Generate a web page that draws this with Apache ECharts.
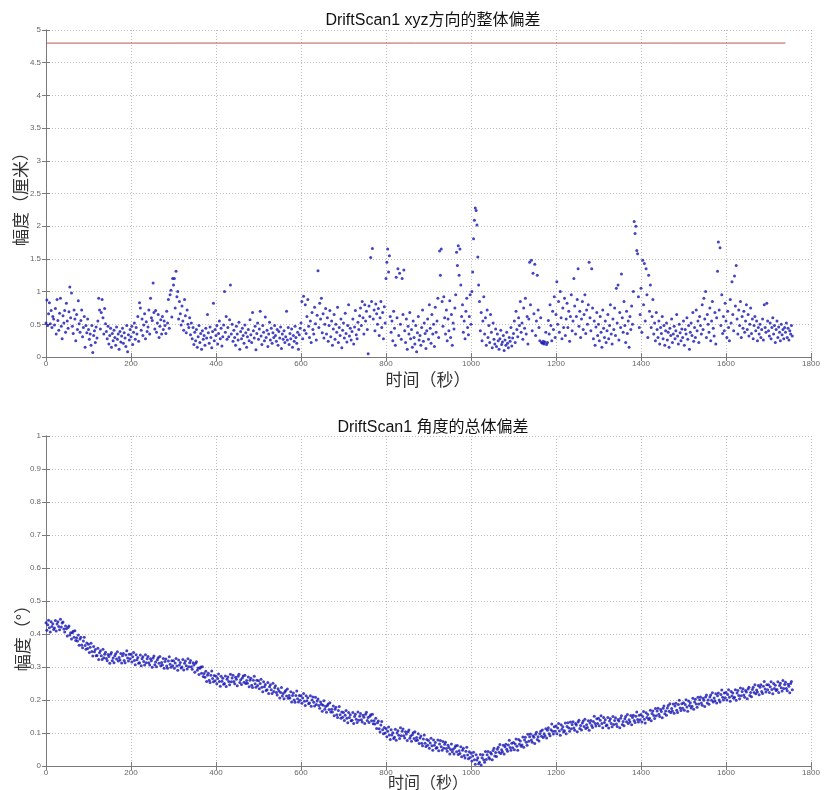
<!DOCTYPE html>
<html>
<head>
<meta charset="utf-8">
<script src="https://cdn.jsdelivr.net/npm/echarts/dist/echarts.min.js"></script>
<style>
html,body{margin:0;padding:0;background:#fff;}
#chart{width:826px;height:790px;}
</style>
</head>
<body>
<div id="chart"></div>
<script>
// ---------- data ----------
const T_STEP = 2; // seconds between plotted samples
const TITLE_TOP = 'DriftScan1 xyz方向的整体偏差';
const TITLE_BOTTOM = 'DriftScan1 角度的总体偏差';
const X_NAME = '时间（秒）';
const Y_NAME_TOP = '幅度（厘米）';
const Y_NAME_BOTTOM = '幅度（°）';
const X_RANGE = [0, 1800, 200];
const Y_RANGE_TOP = [0, 5, 0.5];
const Y_RANGE_BOTTOM = [0, 1, 0.1];
const LIMIT_VALUE = 4.8;
const LIMIT_SPAN = [0, 1740];

// overall xyz deviation (cm), one value every T_STEP seconds from t=0
const XYZ_DEV = [
.52,.87,.48,.66,.83,.51,.71,.45,.62,.58,
.49,.74,.35,.88,.56,.41,.67,.90,.47,.28,
.63,.52,.71,.38,.82,.55,.44,.69,1.07,.60,
.98,.47,.36,.72,.58,.25,.65,.42,.86,.51,
.38,.56,.72,.31,.45,.62,.15,.48,.37,.58,
.42,.27,.35,.18,.48,.07,.33,.40,.22,.46,
.29,.55,.90,.72,.43,.68,.88,.60,.35,.74,
.51,.39,.28,.47,.20,.33,.44,.15,.36,.25,
.41,.30,.18,.46,.27,.35,.12,.39,.23,.32,
.44,.21,.37,.29,.16,.48,.08,.34,.26,.42,
.31,.47,.19,.38,.52,.27,.45,.35,.62,.24,
.83,.75,.41,.58,.33,.49,.66,.28,.54,.39,
.46,.72,.35,.90,.60,.56,1.13,.68,.43,.71,
.38,.52,.65,.30,.47,.57,.35,.62,.42,.55,
.48,.36,.70,.52,.88,.44,.95,1.02,.61,1.20,
1.10,1.20,.75,1.31,.92,1.00,.58,.85,.66,.49,
.78,.55,.41,.88,.63,.37,.72,.50,.45,.60,
.34,.52,.28,.45,.19,.38,.25,.42,.15,.31,
.48,.22,.36,.12,.40,.27,.33,.18,.44,.29,
.65,.37,.21,.46,.30,.14,.39,.82,.25,.42,
.33,.48,.20,.36,.55,.28,.44,.17,.31,.49,
1.00,.38,.62,.27,.45,.31,.57,1.10,.35,.50,
.24,.41,.30,.18,.47,.35,.26,.53,.12,.39,
.28,.44,.33,.21,.49,.37,.15,.31,.42,.25,
.57,.34,.22,.68,.40,.29,.47,.11,.36,.52,
.27,.43,.70,.32,.19,.48,.38,.25,.61,.30,
.41,.16,.35,.53,.26,.44,.21,.37,.30,.48,
.33,.24,.42,.18,.39,.29,.46,.13,.35,.27,
.40,.22,.31,.70,.26,.45,.19,.36,.28,.43,
.15,.33,.24,.47,.30,.21,.38,.12,.34,.44,
.52,.85,.28,.93,.41,.80,.36,.62,.88,.47,
.30,.55,.22,.68,.42,.35,.76,.51,.26,.64,
1.32,.45,.82,.58,.90,.37,.66,.29,.50,.74,
.35,.60,.24,.48,.71,.31,.55,.18,.43,.65,
.27,.50,.38,.76,.22,.45,.33,.58,.14,.41,
.52,.29,.67,.36,.23,.48,.80,.32,.44,.26,
.39,.58,.20,.46,.71,.34,.28,.53,.42,.63,
.75,.48,.85,.60,.35,.80,.55,.70,.42,.05,
.78,.62,1.52,.85,1.66,.58,.72,.40,.81,.66,
.50,.74,.33,.60,.85,.45,.68,.28,.77,.52,
1.20,1.45,1.65,1.30,1.55,.62,.38,.55,.25,.70,
.44,.18,1.22,.60,1.35,.33,1.28,.50,.27,1.20,
.65,1.33,.40,.22,.58,.12,.47,.35,.68,.28,
.42,.15,.55,.30,.20,.48,.08,.37,.62,.26,
.33,.18,.45,.72,.24,.52,.36,.13,.40,.58,
.27,.80,.44,.21,.65,.35,.50,.16,.76,.38,
.55,.90,.30,1.62,1.25,1.65,.85,.47,.92,.60,
.35,.72,.25,.58,.40,.86,.30,.65,.18,.52,
.43,.75,.95,1.60,1.40,1.70,1.25,1.65,1.10,.62,
.80,.38,.55,.28,.70,.90,.45,.34,.62,.95,
.50,1.00,1.30,1.81,2.09,2.28,2.24,2.02,1.53,1.10,
.85,.40,.68,.25,.55,.92,.35,.60,.18,.72,
.30,.48,.22,.65,.38,.14,.52,.27,.20,.43,
.16,.35,.25,.12,.28,.41,.19,.23,.33,.10,
.26,.18,.38,.21,.14,.30,.24,.45,.17,.29,
.36,.55,.22,.70,.42,.31,.60,.48,.85,.38,
.52,.27,.75,.44,.90,.35,.62,.20,.58,1.45,
.80,1.48,.40,1.28,.66,1.42,.33,.55,1.25,.72,
.45,.25,.60,.22,.21,.24,.20,.23,.38,.19,
.22,.56,.35,.80,.48,.25,.70,.42,.92,.30,
.65,1.15,.50,.85,.38,1.00,.60,.28,.75,.45,
.90,.33,.58,.82,.45,.70,.24,.62,.95,.40,
.55,1.20,.78,.35,.62,.88,1.35,.47,.70,.30,
.58,.85,.42,.65,.95,.36,.72,.50,.80,1.45,
.60,.40,1.35,.75,.28,.55,.18,.46,.68,.33,
.50,.25,.62,.38,.15,.72,.44,.30,.55,.22,
.40,.65,.28,.48,.80,.35,.20,.58,.42,.75,
.33,1.05,.52,1.10,.26,.68,.45,1.27,.60,.38,
.85,.48,.22,.70,.36,.55,.15,.62,.42,.78,
.50,1.00,2.07,1.89,2.00,1.63,1.58,.92,.45,.65,
1.05,.38,1.48,.80,1.43,.55,1.35,.95,.30,1.25,
.70,1.10,.45,.62,.88,.35,.52,.25,.68,.42,
.30,.55,.20,.45,.36,.62,.28,.48,.18,.40,
.52,.26,.38,.15,.44,.33,.58,.22,.35,.47,
.28,.40,.65,.32,.20,.50,.37,.25,.43,.30,
.55,.18,.42,.35,.60,.27,.48,.12,.38,.52,
.33,.68,.24,.45,.30,.72,.40,.55,.22,.62,
.48,.35,.80,.42,.90,.58,1.00,.30,.65,.50,
.38,.75,.25,.55,.85,.44,.32,.68,.20,.60,
1.31,1.76,.72,1.67,.48,.95,.36,.62,.40,.82,
.55,.30,.70,.45,.25,.88,.52,1.15,.65,.40,
1.24,.78,1.40,.58,.35,.72,.48,.85,.30,.62,
.44,.70,.38,.55,.80,.42,.65,.32,.50,.75,
.36,.58,.28,.48,.62,.40,.55,.25,.45,.35,
.50,.30,.42,.58,.26,.80,.45,.38,.82,.55,
.40,.32,.52,.28,.45,.60,.35,.48,.22,.42,
.55,.30,.46,.38,.25,.50,.34,.42,.28,.45,
.38,.52,.30,.44,.26,.40,.35,.48,.32
];

// overall angular deviation (deg), one value every T_STEP seconds from t=0
const ANG_DEV = [
.434,.411,.428,.442,.419,.406,.437,.423,.431,.414,
.418,.441,.409,.430,.437,.423,.413,.445,.421,.433,
.436,.415,.406,.424,.416,.394,.420,.424,.397,.404,
.385,.404,.408,.390,.410,.380,.389,.379,.397,.366,
.385,.390,.367,.358,.379,.390,.365,.354,.373,.356,
.369,.344,.360,.372,.347,.333,.362,.346,.353,.334,
.335,.357,.323,.343,.349,.334,.323,.354,.328,.339,
.345,.326,.319,.338,.332,.311,.339,.344,.319,.327,
.313,.334,.340,.324,.346,.318,.329,.321,.341,.312,
.334,.341,.320,.313,.336,.349,.327,.318,.339,.325,
.339,.315,.331,.344,.320,.307,.337,.322,.329,.311,
.313,.336,.304,.325,.331,.317,.306,.337,.313,.325,
.332,.313,.306,.325,.319,.299,.327,.333,.307,.315,
.301,.322,.328,.311,.332,.304,.314,.306,.326,.296,
.317,.324,.303,.296,.318,.331,.308,.299,.319,.304,
.319,.296,.312,.326,.303,.290,.321,.306,.314,.297,
.300,.323,.291,.311,.318,.304,.294,.325,.301,.313,
.320,.301,.293,.313,.306,.284,.311,.316,.290,.297,
.277,.296,.300,.281,.301,.271,.280,.269,.287,.256,
.275,.281,.260,.253,.275,.288,.265,.255,.274,.258,
.272,.249,.265,.279,.256,.242,.272,.257,.266,.248,
.250,.273,.241,.263,.270,.256,.246,.278,.255,.267,
.275,.256,.249,.269,.263,.243,.272,.278,.253,.261,
.247,.267,.273,.254,.275,.250,.259,.251,.270,.240,
.260,.266,.245,.238,.260,.272,.249,.239,.260,.244,
.258,.234,.250,.263,.239,.225,.255,.240,.247,.229,
.231,.253,.220,.240,.246,.231,.220,.251,.226,.237,
.243,.223,.215,.234,.227,.206,.223,.238,.212,.220,
.204,.224,.229,.212,.233,.205,.214,.206,.225,.194,
.214,.221,.200,.193,.214,.227,.204,.194,.214,.199,
.213,.190,.206,.220,.196,.183,.213,.198,.207,.189,
.191,.213,.181,.200,.209,.193,.182,.208,.186,.197,
.203,.183,.175,.194,.187,.166,.184,.198,.172,.180,
.163,.183,.188,.171,.192,.164,.172,.164,.182,.152,
.172,.178,.155,.147,.168,.180,.155,.145,.164,.148,
.162,.138,.154,.168,.145,.131,.162,.147,.155,.137,
.139,.162,.129,.150,.157,.142,.132,.164,.139,.151,
.159,.140,.133,.154,.148,.129,.157,.163,.138,.147,
.132,.151,.155,.137,.157,.128,.137,.127,.145,.114,
.131,.136,.113,.103,.124,.135,.110,.098,.117,.100,
.113,.089,.105,.118,.094,.080,.110,.094,.101,.083,
.087,.111,.078,.100,.107,.093,.083,.116,.092,.105,
.112,.092,.085,.104,.097,.077,.104,.109,.084,.091,
.075,.095,.101,.083,.104,.077,.086,.078,.098,.068,
.085,.091,.069,.061,.082,.094,.069,.059,.080,.063,
.077,.054,.070,.084,.061,.048,.079,.063,.071,.054,
.056,.079,.046,.067,.077,.058,.048,.074,.054,.066,
.072,.053,.045,.063,.056,.036,.050,.067,.043,.051,
.036,.056,.061,.043,.062,.035,.046,.038,.058,.028,
.048,.054,.032,.024,.045,.057,.033,.022,.043,.026,
.039,.015,.030,.042,.019,.005,.034,.018,.025,.007,
.011,.035,.003,.025,.034,.019,.011,.044,.020,.034,
.044,.026,.021,.041,.036,.019,.047,.054,.030,.041,
.029,.051,.057,.042,.065,.038,.049,.043,.063,.036,
.058,.066,.051,.045,.064,.078,.056,.048,.069,.055,
.071,.049,.067,.082,.060,.048,.080,.066,.076,.060,
.064,.088,.057,.079,.087,.072,.063,.096,.075,.089,
.097,.079,.072,.092,.087,.068,.096,.102,.080,.089,
.076,.098,.105,.090,.109,.086,.098,.092,.113,.085,
.108,.116,.098,.092,.110,.127,.105,.097,.119,.105,
.121,.098,.115,.129,.106,.093,.125,.111,.119,.103,
.107,.130,.098,.120,.131,.115,.105,.133,.113,.126,
.134,.115,.108,.129,.124,.104,.133,.139,.114,.123,
.109,.130,.136,.120,.142,.114,.125,.117,.137,.108,
.130,.138,.123,.117,.135,.151,.129,.121,.143,.129,
.145,.122,.139,.152,.129,.116,.147,.132,.140,.122,
.124,.147,.115,.136,.143,.129,.119,.150,.126,.138,
.146,.127,.120,.141,.136,.116,.145,.152,.126,.135,
.122,.143,.150,.134,.156,.129,.140,.133,.153,.125,
.147,.154,.138,.132,.151,.164,.141,.133,.154,.140,
.156,.133,.150,.165,.142,.130,.161,.147,.156,.141,
.145,.169,.137,.159,.167,.153,.144,.174,.152,.167,
.175,.157,.150,.171,.165,.146,.175,.182,.158,.167,
.154,.176,.183,.166,.189,.162,.174,.167,.188,.160,
.182,.190,.169,.162,.186,.199,.176,.168,.189,.175,
.192,.169,.186,.201,.179,.166,.197,.183,.192,.176,
.181,.205,.172,.194,.202,.188,.178,.208,.188,.201,
.209,.191,.184,.205,.199,.180,.209,.215,.191,.200,
.187,.209,.215,.199,.222,.194,.206,.198,.219,.191,
.213,.221,.200,.194,.217,.230,.208,.200,.221,.207,
.223,.200,.217,.231,.208,.196,.226,.212,.221,.205,
.208,.231,.199,.221,.229,.214,.204,.236,.213,.226,
.234,.215,.208,.229,.224,.204,.233,.239,.214,.223,
.210,.232,.239,.223,.246,.219,.230,.224,.244,.216,
.239,.246,.226,.220,.242,.256,.233,.224,.246,.231,
.246,.223,.240,.255,.232,.219,.250,.235,.245,.229,
.232,.255,.223,.244,.251,.237,.227,.259,.235,.247,
.254,.235,.228,.248,.242,.222,.250,.256,.231
];

// ---------- chart ----------
const FONT = '"Liberation Sans", Arial, "Noto Sans CJK SC", sans-serif';
const CJK = '"Noto Sans CJK SC", sans-serif';
const DOT = '#1414b4';
const AXIS_COLOR = '#7a7a7a';
const toPts = arr => arr.map((v, i) => [i * T_STEP, v]);

function xAxisPair(gi) {
  const base = {gridIndex: gi, type: 'value', min: X_RANGE[0], max: X_RANGE[1], interval: X_RANGE[2]};
  return [
    Object.assign({}, base, {
      position: 'bottom',
      axisLine: {show: true, lineStyle: {color: AXIS_COLOR, width: 1}},
      axisTick: {show: true, inside: true, length: 4, lineStyle: {color: AXIS_COLOR}},
      axisLabel: {fontFamily: FONT, fontSize: 8, color: '#666', margin: 3, formatter: v => String(v)},
      splitLine: {show: true, lineStyle: {color: '#bdbdbd', type: [1, 2], width: 1}}
    }),
    Object.assign({}, base, {
      position: 'top',
      axisLine: {show: true, lineStyle: {color: AXIS_COLOR, width: 1}},
      axisTick: {show: true, inside: true, length: 4, lineStyle: {color: AXIS_COLOR}},
      axisLabel: {show: false},
      splitLine: {show: false}
    })
  ];
}
function yAxisPair(gi, range) {
  const base = {gridIndex: gi, type: 'value', min: range[0], max: range[1], interval: range[2]};
  return [
    Object.assign({}, base, {
      position: 'left',
      axisLine: {show: true, lineStyle: {color: AXIS_COLOR, width: 1}},
      axisTick: {show: true, inside: true, length: 4, lineStyle: {color: AXIS_COLOR}},
      axisLabel: {fontFamily: FONT, fontSize: 8, color: '#666', margin: 5, formatter: v => String(v)},
      splitLine: {show: true, lineStyle: {color: '#bdbdbd', type: [1, 2], width: 1}}
    }),
    Object.assign({}, base, {
      position: 'right',
      axisLine: {show: true, lineStyle: {color: AXIS_COLOR, width: 1}},
      axisTick: {show: true, inside: true, length: 4, lineStyle: {color: AXIS_COLOR}},
      axisLabel: {show: false},
      splitLine: {show: false}
    })
  ];
}

const nameStyle = (txt, size) => ({text: txt, fill: '#333', font: size + 'px ' + CJK,
  align: 'center', verticalAlign: 'middle', textAlign: 'center', textVerticalAlign: 'middle'});

const option = {
  backgroundColor: '#fff',
  animation: false,
  title: [
    {text: TITLE_TOP, left: 428, textAlign: 'center', top: 8,
     textStyle: {fontFamily: FONT, fontSize: 16, fontWeight: 'normal', color: '#111'}},
    {text: TITLE_BOTTOM, left: 428, textAlign: 'center', top: 415,
     textStyle: {fontFamily: FONT, fontSize: 16, fontWeight: 'normal', color: '#111'}}
  ],
  graphic: [
    {type: 'text', x: 21, y: 195, rotation: Math.PI / 2, style: nameStyle(Y_NAME_TOP, 17)},
    {type: 'text', x: 23, y: 634, rotation: Math.PI / 2, style: nameStyle(Y_NAME_BOTTOM, 17)},
    {type: 'text', x: 428, y: 380, style: nameStyle(X_NAME, 17)},
    {type: 'text', x: 428, y: 782, style: nameStyle(X_NAME, 16)}
  ],
  grid: [
    {left: 46, right: 15, top: 30, height: 327, show: false, containLabel: false, outerBoundsMode: 'none'},
    {left: 46, right: 15, top: 436, height: 330, show: false, containLabel: false, outerBoundsMode: 'none'}
  ],
  xAxis: xAxisPair(0).concat(xAxisPair(1)),
  yAxis: yAxisPair(0, Y_RANGE_TOP).concat(yAxisPair(1, Y_RANGE_BOTTOM)),
  series: [
    {type: 'line', xAxisIndex: 0, yAxisIndex: 0, showSymbol: false, silent: true,
     lineStyle: {color: '#c0574f', width: 1},
     data: LIMIT_SPAN.map(t => [t, LIMIT_VALUE])},
    {type: 'scatter', xAxisIndex: 0, yAxisIndex: 0, symbol: 'circle', symbolSize: 3,
     itemStyle: {color: DOT}, data: toPts(XYZ_DEV)},
    {type: 'scatter', xAxisIndex: 2, yAxisIndex: 2, symbol: 'circle', symbolSize: 3,
     itemStyle: {color: DOT}, data: toPts(ANG_DEV)}
  ]
};
echarts.init(document.getElementById('chart'), null, {renderer: 'canvas'}).setOption(option);
</script>
</body>
</html>
